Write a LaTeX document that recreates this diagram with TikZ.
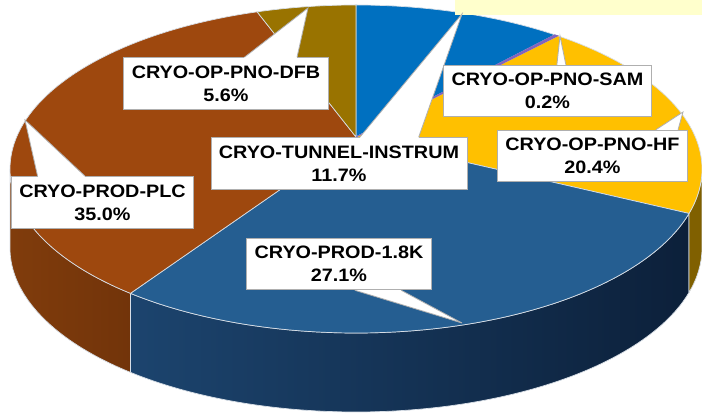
\documentclass[tikz,border=0pt]{standalone}
\usepackage{fontspec}
\newfontfamily\lblfont{Liberation Sans}[FakeStretch=1.1]
\usetikzlibrary{calc}

\definecolor{tunnelc}{RGB}{0,112,192}
\definecolor{samc}{RGB}{130,100,190}
\definecolor{hfc}{RGB}{255,192,0}
\definecolor{kc}{RGB}{37,94,145}
\definecolor{plcc}{RGB}{158,72,14}
\definecolor{dfbc}{RGB}{153,115,0}
\definecolor{plcsidea}{RGB}{128,60,12}
\definecolor{plcsideb}{RGB}{114,52,10}
\definecolor{ksidea}{RGB}{28,68,110}
\definecolor{ksideb}{RGB}{12,32,58}
\definecolor{hfside}{RGB}{128,96,0}
\definecolor{sepc}{RGB}{215,222,230}
\definecolor{boxc}{RGB}{175,175,175}
\definecolor{legendc}{RGB}{255,255,204}

\tikzset{
  rim/.style={x radius=346, y radius=164},
  slice/.style={draw=sepc, line width=0.7pt, line join=round},
  lbl/.style={fill=white, draw=boxc, line width=0.8pt, align=center,
    inner xsep=8pt, inner ysep=8pt, text=black,
    font=\lblfont\bfseries\fontsize{18}{23}\selectfont},
  ptrline/.style={draw=boxc, line width=0.8pt, line join=miter},
}

% callout pointer: node, side from, side to, base fractions, tip
\newcommand\ptr[6]{%
  \coordinate (#1p) at ($(#1.#2)!#4!(#1.#3)$);
  \coordinate (#1q) at ($(#1.#2)!#5!(#1.#3)$);
  \fill[white] (#1p) -- (#6) -- (#1q) -- cycle;
  \draw[white, line width=1.2pt] (#1p) -- (#1q);
  \draw[ptrline] (#1p) -- (#6) -- (#1q);
}

\begin{document}
\begin{tikzpicture}[x=1pt, y=-1pt]
\useasboundingbox (0,0) rectangle (702,414);
\coordinate (c) at (356,137);   % pie centre
\coordinate (e) at (356,169);   % centre of rim ellipse

% front wall
\shade[slice, left color=plcsidea, right color=plcsideb]
  ($(e)+(130.69:346 and 164)$) arc[rim, start angle=130.69, end angle=180]
  -- ++(0,79) arc[rim, start angle=180, end angle=130.69] -- cycle;
\shade[slice, left color=ksidea, right color=ksideb]
  ($(e)+(15.73:346 and 164)$) arc[rim, start angle=15.73, end angle=130.69]
  -- ++(0,79) arc[rim, start angle=130.69, end angle=15.73] -- cycle;
\fill[slice, fill=hfside]
  ($(e)+(0:346 and 164)$) arc[rim, start angle=0, end angle=15.73]
  -- ++(0,79) arc[rim, start angle=15.73, end angle=0] -- cycle;

% top face
\fill[slice, fill=tunnelc] (c) -- ($(e)+(-90:346 and 164)$)
  arc[rim, start angle=-90, end angle=-54.92] -- cycle;
\fill[slice, fill=hfc] (c) -- ($(e)+(-54.31:346 and 164)$)
  arc[rim, start angle=-54.31, end angle=15.73] -- cycle;
\fill[slice, fill=kc] (c) -- ($(e)+(15.73:346 and 164)$)
  arc[rim, start angle=15.73, end angle=130.69] -- cycle;
\fill[slice, fill=plcc] (c) -- ($(e)+(130.69:346 and 164)$)
  arc[rim, start angle=130.69, end angle=253.39] -- cycle;
\fill[slice, fill=dfbc] (c) -- ($(e)+(253.39:346 and 164)$)
  arc[rim, start angle=253.39, end angle=270] -- cycle;
\fill[draw=samc, fill=samc, line width=0.8pt] (c) -- ($(e)+(-54.92:346 and 164)$)
  arc[rim, start angle=-54.92, end angle=-54.31] -- cycle;

\fill[legendc] (455,0) rectangle (702,15);

% labels
\coordinate (dfbtip) at (308,8);
\coordinate (plctip) at (25,120);
\coordinate (ktip) at (462,323);
\coordinate (tuntip) at (462,14);
\coordinate (hftip) at (683,112);
\coordinate (samtip) at (560,36);

\node[lbl] (dfb) at (226,83.5) {CRYO-OP-PNO-DFB\\5.6\%};
\ptr{dfb}{north west}{north east}{0.59}{0.846}{dfbtip}
\node[lbl] (plc) at (102.5,202.5) {CRYO-PROD-PLC\\35.0\%};
\ptr{plc}{north west}{north east}{0.146}{0.405}{plctip}
\node[lbl] (k18) at (339,264) {CRYO-PROD-1.8K\\27.1\%};
\ptr{k18}{south west}{south east}{0.585}{0.835}{ktip}
\node[lbl] (tun) at (339,163.5) {CRYO-TUNNEL-INSTRUM\\11.7\%};
\ptr{tun}{north west}{north east}{0.581}{0.81}{tuntip}
\node[lbl] (hf) at (592.5,156) {CRYO-OP-PNO-HF\\20.4\%};
\ptr{hf}{north west}{north east}{0.832}{0.948}{hftip}
\node[lbl] (sam) at (547.5,91) {CRYO-OP-PNO-SAM\\0.2\%};
\ptr{sam}{north west}{north east}{0.545}{0.588}{samtip}
\end{tikzpicture}
\end{document}
